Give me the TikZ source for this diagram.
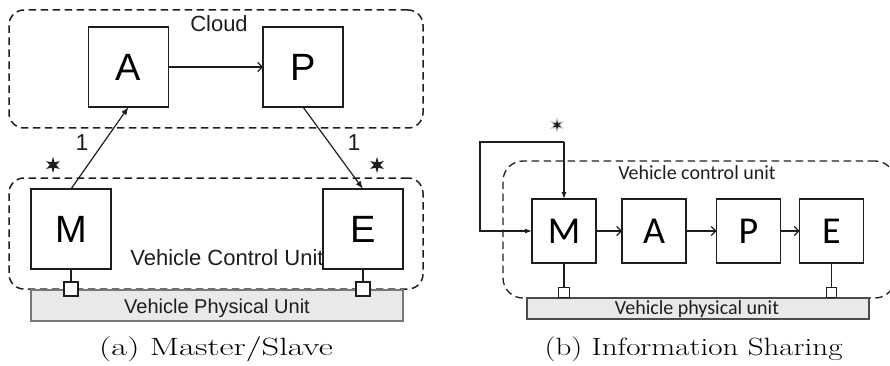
\documentclass[tikz,border=0pt]{standalone}
\usepackage{fontspec}
\usepackage{graphicx}
\usetikzlibrary{arrows.meta,shapes.geometric}
\newfontfamily\arialf{Liberation Sans}
\newfontfamily\calf{Carlito}
\definecolor{ink}{HTML}{1E1E1E}
\definecolor{physfill}{HTML}{E9E9E9}
\definecolor{physedge}{HTML}{777777}

\begin{document}
\begin{tikzpicture}[x=1pt,y=-1pt,
  every node/.style={inner sep=0pt, outer sep=0pt},
  region/.style={draw=ink, line width=1.5pt, dash pattern=on 7.5pt off 4.5pt, rounded corners=15pt},
  bigbox/.style={draw=ink, line width=1.6pt, minimum size=80pt, font=\arialf\fontsize{38}{40}\selectfont},
  smallbox/.style={draw=ink, line width=1.2pt, minimum size=64pt, font=\calf\fontsize{38}{40}\selectfont},
  physbox/.style={draw=physedge, fill=physfill, line width=1.1pt},
  port/.style={draw=ink, fill=white, line width=1.1pt},
  lblA/.style={font=\arialf\fontsize{22}{24}\selectfont, text=ink},
  lblB/.style={font=\calf\fontsize{20}{22}\selectfont, text=ink},
  caption/.style={font=\fontsize{25}{28}\selectfont, anchor=base},
  wire/.style={draw=ink, line width=1.2pt},
  filledtip/.style={-{Latex[length=8pt,width=6pt]}},
  opentip/.style={-{Straight Barb[length=4.5pt,width=9pt]}},
  starmark/.style={star, star points=6, star point ratio=2.6, fill=ink, minimum size=16pt}
]
\useasboundingbox (0,0) rectangle (890,366);
\clip (0,0) rectangle (890,366);

% ---------- (a) Master/Slave ----------
\node[region, minimum width=414pt, minimum height=118pt] (cloud) at (216,69) {};
\node[lblA, anchor=base] (cloudlbl) at (219,32) {Cloud};
\node[bigbox] (A) at (128.5,67) {A};
\node[bigbox] (P) at (303,67) {P};

\node[region, minimum width=414pt, minimum height=111pt] (vcu) at (216,233.5) {};
\node[physbox, minimum width=372pt, minimum height=31pt] (phys) at (217,305.5) {};
\node[lblA, font=\arialf\fontsize{20}{22}\selectfont, anchor=base] (physlbl) at (217,313) {Vehicle Physical Unit};
\node[bigbox] (M) at (71,229) {M};
\node[bigbox] (E) at (363,229) {E};
\node[lblA, anchor=base] (vculbl) at (227,265) {Vehicle Control Unit};

\node[port, minimum size=14pt] (pM) at (71,289) {};
\node[port, minimum size=14pt] (pE) at (363,289) {};
\draw[wire] (M.south) -- (pM.north);
\draw[wire] (E.south) -- (pE.north);

\draw[wire, opentip] (A.east) -- (P.west);
\draw[wire, filledtip] (M.north) -- (A.south);
\draw[wire, filledtip] (P.south) -- (E.north);

\node[lblA, font=\arialf\fontsize{23}{24}\selectfont] (oneL) at (82,143) {1};
\node[lblA, font=\arialf\fontsize{23}{24}\selectfont] (oneR) at (354,143) {1};
\node[starmark] (starL) at (53,165) {};
\node[starmark] (starR) at (377,165) {};

\node[caption] (capa) at (216,355) {\scalebox{1.38}[1]{(a) Master/Slave}};

% ---------- (b) Information Sharing ----------
\node[region, line width=1.3pt, rounded corners=20pt, minimum width=392pt, minimum height=137pt] (vcuB) at (699,229.5) {};
\node[lblB, anchor=base] (vcuBlbl) at (697,179) {Vehicle control unit};
\node[physbox, draw=ink!80, minimum width=342pt, minimum height=21pt] (physB) at (698,308.5) {};
\node[lblB, anchor=base] (physBlbl) at (697,314) {Vehicle physical unit};

\node[smallbox] (MB) at (564,231) {M};
\node[smallbox] (AB) at (654,231) {A};
\node[smallbox] (PB) at (748.5,231) {P};
\node[smallbox] (EB) at (831.5,231) {E};

\draw[wire, opentip] (MB.east) -- (AB.west);
\draw[wire, opentip] (AB.east) -- (PB.west);
\draw[wire, opentip] (PB.east) -- (EB.west);

\node[port, minimum width=10.5pt, minimum height=10.5pt] (pMB) at (564,292.5) {};
\node[port, minimum width=10.5pt, minimum height=10.5pt] (pEB) at (831.5,292.5) {};
\draw[wire] (MB.south) -- (pMB.north);
\draw[wire] (EB.south) -- (pEB.north);

% feedback loop into M
\coordinate (fbTR) at (564,142);
\coordinate (fbTL) at (480,142);
\draw[wire, -{Latex[length=7pt,width=5pt]}] (fbTR) -- (MB.north);
\draw[wire, -{Latex[length=7pt,width=5pt]}] (fbTR) -- (fbTL) |- (MB.west);

\node[star, star points=6, star point ratio=2.2, fill=gray!35, minimum size=16pt] (starBhalo) at (557,125) {};
\node[starmark, minimum size=10pt] (starB) at (557,125) {};

\node[caption] (capb) at (693.5,355) {\scalebox{1.24}[1]{(b) Information Sharing}};
\end{tikzpicture}
\end{document}
